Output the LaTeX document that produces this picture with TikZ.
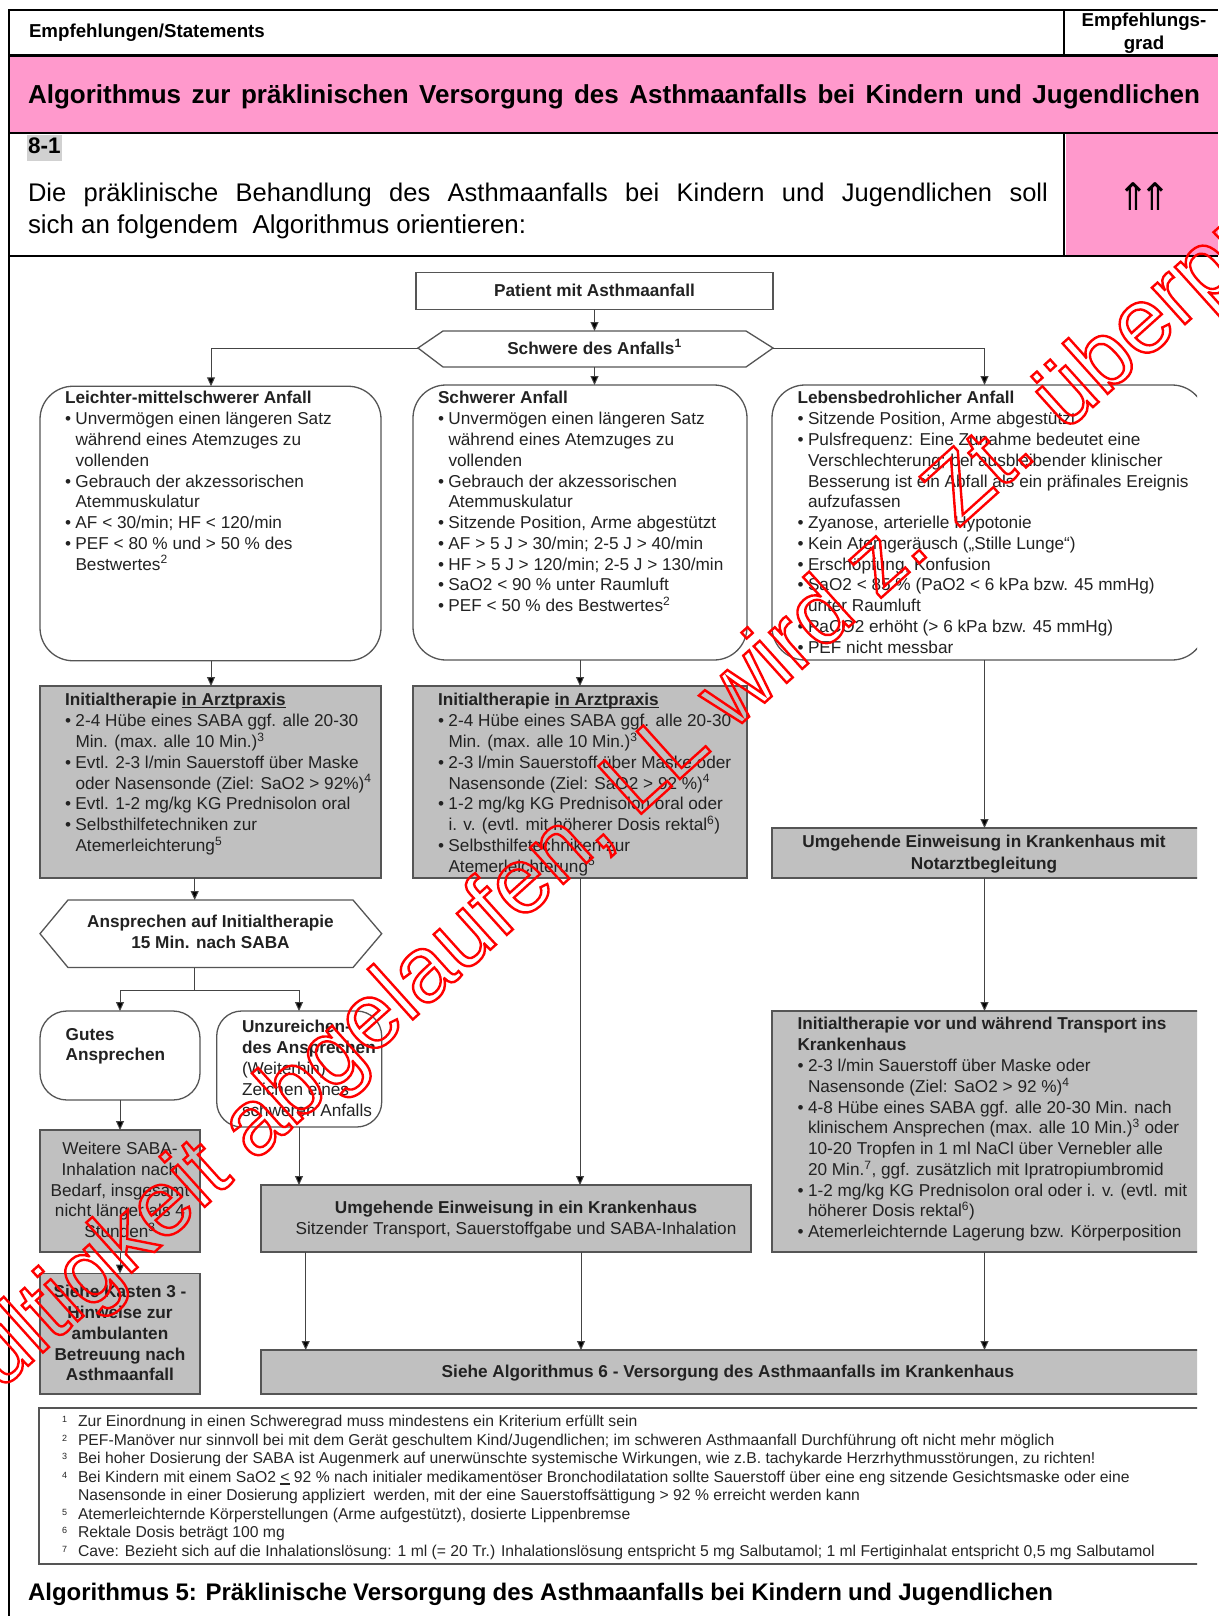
\documentclass[tikz,border=0pt]{standalone}
\usepackage{fontspec}
\setmainfont{Liberation Sans}
\newfontfamily\djv{DejaVu Sans}
\usetikzlibrary{arrows.meta}
\definecolor{pinkc}{HTML}{FF99CC}
\definecolor{grayc}{HTML}{C0C0C0}
\definecolor{edgec}{HTML}{555555}
\definecolor{inkc}{HTML}{222222}
\newcommand{\bl}{\makebox[10.5pt][l]{\textbullet}}
\newcommand{\cn}{\hspace*{10.5pt}}
\newcommand{\fnn}[1]{\makebox[16pt][l]{\raisebox{4pt}{\fontsize{9}{9}\selectfont #1}}}
\newcommand{\ulx}[1]{\setbox0=\hbox{#1}\rlap{\rule[-2.2pt]{\wd0}{1.1pt}}\box0 }
\tikzset{
  boxbase/.style={inner sep=0pt,outer sep=0pt,draw=edgec,line width=1.3pt},
  plainbox/.style={boxbase,fill=white,rectangle},
  roundbox/.style={boxbase,fill=white,rectangle,rounded corners=#1},
  graybox/.style={boxbase,fill=grayc,rectangle},
  txt/.style={inner sep=0pt,outer sep=0pt,anchor=north west,align=left,text=inkc,
    font=\fontsize{17.2}{20.78}\selectfont,execute at begin node={\rule{0pt}{12pt}}},
  ctxt/.style={txt,anchor=north,align=center},
  arr/.style={draw=edgec!80!black,line width=1pt,-{Triangle[length=9pt,width=8pt,fill=black]}},
  lin/.style={draw=edgec!80!black,line width=1pt},
  tabline/.style={draw=black,line width=2.2pt},
  head/.style={inner sep=0pt,outer sep=0pt,text=black},
}
\begin{document}
\begin{tikzpicture}[x=1pt,y=-1pt]
\useasboundingbox (0,0) rectangle (1218,1616);
\fill[white] (0,0) rectangle (1218,1616);
% table
\fill[pinkc] (10,57) rectangle (1218,132);
\fill[pinkc] (1066,134) rectangle (1218,255);
\fill[black!18] (27,135) rectangle (62,161);
\draw[tabline] (1218,10) -- (9,10) -- (9,1616);
\draw[tabline] (9,55.5) -- (1218,55.5);
\draw[tabline] (9,133) -- (1218,133);
\draw[tabline] (9,256) -- (1218,256);
\draw[draw=black,line width=1.8pt] (1064,10) -- (1064,56);
\draw[draw=black,line width=1.8pt] (1064,133) -- (1064,256);
\node[head,anchor=west,font=\bfseries\fontsize{18.7}{20}\selectfont] (hdrA) at (29,33) {Empfehlungen/Statements};
\node[head,align=center,font=\bfseries\fontsize{18.7}{22.5}\selectfont] (hdrB) at (1144,33) {Empfehlungs-\\grad};
\node[head,anchor=west,font=\bfseries\fontsize{26}{30}\selectfont] (title) at (28,97) {\makebox[1172pt][s]{Algorithmus zur präklinischen Versorgung des Asthmaanfalls bei Kindern und Jugendlichen}};
\node[head,anchor=west,font=\bfseries\fontsize{22.5}{26}\selectfont] (num) at (28,146) {8-1};
\node[head,anchor=west,font=\fontsize{25.5}{30}\selectfont] (intA) at (28,195) {\makebox[1020pt][s]{Die präklinische Behandlung des Asthmaanfalls bei Kindern und Jugendlichen soll}};
\node[head,anchor=west,font=\fontsize{25.9}{30}\selectfont] (intB) at (28,227) {sich an folgendem\ \ Algorithmus orientieren:};
\node[head,font=\djv\fontsize{38}{38}\selectfont] (grade) at (1144,197) {⇑\hspace{-10pt}⇑};
% boxes
\node[plainbox,minimum width=357pt,minimum height=37pt] (patient) at (594.5,291) {};
\node[ctxt,font=\bfseries\fontsize{17.2}{20.78}\selectfont] (patientT) at (594.5,284.5) {Patient mit Asthmaanfall};
\draw[boxbase,fill=white] (418,348) -- (443,331) -- (746,331) -- (773,348) -- (746,367) -- (443,367) -- cycle;
\coordinate (schwW) at (418,348); \coordinate (schwE) at (773,348); \coordinate (schwN) at (594.5,331); \coordinate (schwS) at (594.5,367);
\node[ctxt,font=\bfseries\fontsize{17.2}{20.78}\selectfont] (schwT) at (594.5,339.5) {Schwere des Anfalls\textsuperscript{1}};
\node[roundbox=33pt,minimum width=341pt,minimum height=274.5pt] (leicht) at (210.5,523.5) {};
\node[roundbox=33pt,minimum width=334pt,minimum height=275pt] (schwer) at (580,522.5) {};
\node[graybox,minimum width=341pt,minimum height=192pt] (ileft) at (210.5,782) {};
\node[graybox,minimum width=334pt,minimum height=192pt] (imid) at (580,782) {};
\begin{scope}
\clip (0,0) rectangle (1197,1616);
\node[roundbox=33pt,minimum width=433pt,minimum height=275pt] (lebens) at (988.5,522.5) {};
\node[graybox,minimum width=433pt,minimum height=50pt] (notarzt) at (988.5,853) {};
\node[graybox,minimum width=433pt,minimum height=241pt] (iright) at (988.5,1131.5) {};
\node[graybox,minimum width=944pt,minimum height=44pt] (algo) at (733,1372) {};
\node[boxbase,rectangle,minimum width=1166pt,minimum height=156pt] (fnbox) at (622,1486) {};
\end{scope}
\draw[boxbase,fill=white] (40,933.7) -- (68,900) -- (353,900) -- (381.7,933.7) -- (353,967.5) -- (68,967.5) -- cycle;
\coordinate (anspN) at (194.7,900); \coordinate (anspS) at (194.7,967.5);
\node[roundbox=27pt,minimum width=160pt,minimum height=89pt] (gutes) at (120,1055.5) {};
\node[roundbox=25pt,minimum width=165pt,minimum height=116pt] (unzu) at (299.2,1069) {};
\node[graybox,minimum width=160pt,minimum height=122pt] (weitere) at (120,1191) {};
\node[graybox,minimum width=160pt,minimum height=120.4pt] (kasten) at (120,1333.8) {};
\node[graybox,minimum width=490pt,minimum height=67pt] (umg) at (506,1218.5) {};
% connector guides
\coordinate (xl) at (211,0); \coordinate (xm) at (580,0); \coordinate (xr) at (984.5,0);
\coordinate (xa) at (194.7,0); \coordinate (xg) at (120,0); \coordinate (xu) at (299,0);
\coordinate (xs) at (305.7,0); \coordinate (xc) at (581,0);
\coordinate (yb) at (0,990);
% connectors
\draw[arr] (patient.south) -- (schwN);
\draw[arr] (schwS) -- (schwS |- schwer.north);
\draw[arr] (schwW) -| (xl |- leicht.north);
\draw[arr] (schwE) -| (xr |- lebens.north);
\draw[arr] (xl |- leicht.south) -- (xl |- ileft.north);
\draw[arr] (xm |- schwer.south) -- (xm |- imid.north);
\draw[arr] (xr |- lebens.south) -- (xr |- notarzt.north);
\draw[arr] (xr |- notarzt.south) -- (xr |- iright.north);
\draw[arr] (xa |- ileft.south) -- (anspN);
\draw[lin] (anspS) -- (xa |- yb);
\draw[arr] (xa |- yb) -| (xg |- gutes.north);
\draw[arr] (xa |- yb) -| (xu |- unzu.north);
\draw[arr] (xg |- gutes.south) -- (xg |- weitere.north);
\draw[arr] (xg |- weitere.south) -- (xg |- kasten.north);
\draw[arr] (xu |- unzu.south) -- (xu |- umg.north);
\draw[arr] (xm |- imid.south) -- (xm |- umg.north);
\draw[arr] (xs |- umg.south) -- (xs |- algo.north);
\draw[arr] (xc |- umg.south) -- (xc |- algo.north);
\draw[arr] (xr |- iright.south) -- (xr |- algo.north);
% texts
\node[txt] (leichtT) at (65,391.5) {\textbf{Leichter-mittelschwerer Anfall}\\
\bl Unvermögen einen längeren Satz\\
\cn während eines Atemzuges zu\\
\cn vollenden\\
\bl Gebrauch der akzessorischen\\
\cn Atemmuskulatur\\
\bl AF < 30/min; HF < 120/min\\
\bl PEF < 80 \% und > 50 \% des\\
\cn Bestwertes\textsuperscript{2}};
\node[txt] (schwerT) at (438,391.5) {\textbf{Schwerer Anfall}\\
\bl Unvermögen einen längeren Satz\\
\cn während eines Atemzuges zu\\
\cn vollenden\\
\bl Gebrauch der akzessorischen\\
\cn Atemmuskulatur\\
\bl Sitzende Position, Arme abgestützt\\
\bl AF > 5 J > 30/min; 2-5 J > 40/min\\
\bl HF > 5 J > 120/min; 2-5 J > 130/min\\
\bl SaO2 < 90 \% unter Raumluft\\
\bl PEF < 50 \% des Bestwertes\textsuperscript{2}};
\node[txt] (lebensT) at (797.5,391.5) {\textbf{Lebensbedrohlicher Anfall}\\
\bl Sitzende Position, Arme abgestützt\\
\bl Pulsfrequenz: Eine Zunahme bedeutet eine\\
\cn Verschlechterung; bei ausbleibender klinischer\\
\cn Besserung ist ein Abfall als ein präfinales Ereignis\\
\cn aufzufassen\\
\bl Zyanose, arterielle Hypotonie\\
\bl Kein Atemgeräusch („Stille Lunge“)\\
\bl Erschöpfung, Konfusion\\
\bl SaO2 < 85 \% (PaO2 < 6 kPa bzw. 45 mmHg)\\
\cn unter Raumluft\\
\bl PaCO2 erhöht (> 6 kPa bzw. 45 mmHg)\\
\bl PEF nicht messbar};
\node[txt] (ileftT) at (65,693.5) {\textbf{Initialtherapie \ulx{in Arztpraxis}}\\
\bl 2-4 Hübe eines SABA ggf. alle 20-30\\
\cn Min. (max. alle 10 Min.)\textsuperscript{3}\\
\bl Evtl. 2-3 l/min Sauerstoff über Maske\\
\cn oder Nasensonde (Ziel: SaO2 > 92\%)\textsuperscript{4}\\
\bl Evtl. 1-2 mg/kg KG Prednisolon oral\\
\bl Selbsthilfetechniken zur\\
\cn Atemerleichterung\textsuperscript{5}};
\node[txt] (imidT) at (438,693.5) {\textbf{Initialtherapie \ulx{in Arztpraxis}}\\
\bl 2-4 Hübe eines SABA ggf. alle 20-30\\
\cn Min. (max. alle 10 Min.)\textsuperscript{3}\\
\bl 2-3 l/min Sauerstoff über Maske oder\\
\cn Nasensonde (Ziel: SaO2 > 92 \%)\textsuperscript{4}\\
\bl 1-2 mg/kg KG Prednisolon oral oder\\
\cn i. v. (evtl. mit höherer Dosis rektal\textsuperscript{6})\\
\bl Selbsthilfetechniken zur\\
\cn Atemerleichterung\textsuperscript{5}};
\node[ctxt,font=\bfseries\fontsize{17.2}{22}\selectfont] (notarztT) at (984,835.5) {Umgehende Einweisung in Krankenhaus mit\\Notarztbegleitung};
\node[txt] (irightT) at (797.5,1017.5) {\textbf{Initialtherapie vor und während Transport ins}\\
\textbf{Krankenhaus}\\
\bl 2-3 l/min Sauerstoff über Maske oder\\
\cn Nasensonde (Ziel: SaO2 > 92 \%)\textsuperscript{4}\\
\bl 4-8 Hübe eines SABA ggf. alle 20-30 Min. nach\\
\cn klinischem Ansprechen (max. alle 10 Min.)\textsuperscript{3} oder\\
\cn 10-20 Tropfen in 1 ml NaCl über Vernebler alle\\
\cn 20 Min.\textsuperscript{7}, ggf. zusätzlich mit Ipratropiumbromid\\
\bl 1-2 mg/kg KG Prednisolon oral oder i. v. (evtl. mit\\
\cn höherer Dosis rektal\textsuperscript{6})\\
\bl Atemerleichternde Lagerung bzw. Körperposition};
\node[ctxt] (anspT) at (210.5,915.5) {\textbf{Ansprechen auf Initialtherapie}\\\textbf{15 Min. nach SABA}};
\node[txt] (gutesT) at (65.7,1028) {\textbf{Gutes}\\\textbf{Ansprechen}};
\node[txt] (unzuT) at (242,1020.5) {\textbf{Unzureichen-}\\\textbf{des Ansprechen}\\(Weiterhin)\\Zeichen eines\\schweren Anfalls};
\node[ctxt] (weitereT) at (120,1142) {Weitere SABA-\\Inhalation nach\\Bedarf, insgesamt\\nicht länger als 4\\Stunden\textsuperscript{3}};
\node[ctxt,font=\bfseries\fontsize{17.2}{20.7}\selectfont] (kastenT) at (120,1285.5) {Siehe Kasten 3 -\\Hinweise zur\\ambulanten\\Betreuung nach\\Asthmaanfall};
\node[ctxt] (umgT) at (516,1201) {\textbf{Umgehende Einweisung in ein Krankenhaus}\\Sitzender Transport, Sauerstoffgabe und SABA-Inhalation};
\node[ctxt,font=\bfseries\fontsize{17.2}{20.65}\selectfont] (algoT) at (728,1365.5) {Siehe Algorithmus 6 - Versorgung des Asthmaanfalls im Krankenhaus};
\node[txt,font=\fontsize{15.7}{18.5}\selectfont,text=black!85] (fnT) at (62,1415.5) {\fnn{1}Zur Einordnung in einen Schweregrad muss mindestens ein Kriterium erfüllt sein\\
\fnn{2}PEF-Manöver nur sinnvoll bei mit dem Gerät geschultem Kind/Jugendlichen; im schweren Asthmaanfall Durchführung oft nicht mehr möglich\\
\fnn{3}Bei hoher Dosierung der SABA ist Augenmerk auf unerwünschte systemische Wirkungen, wie z.B. tachykarde Herzrhythmusstörungen, zu richten!\\
\fnn{4}Bei Kindern mit einem SaO2 \ulx{<} 92 \% nach initialer medikamentöser Bronchodilatation sollte Sauerstoff über eine eng sitzende Gesichtsmaske oder eine\\
\fnn{}Nasensonde in einer Dosierung appliziert\ \ werden, mit der eine Sauerstoffsättigung > 92 \% erreicht werden kann\\
\fnn{5}Atemerleichternde Körperstellungen (Arme aufgestützt), dosierte Lippenbremse\\
\fnn{6}Rektale Dosis beträgt 100 mg\\
\fnn{7}Cave: Bezieht sich auf die Inhalationslösung: 1 ml (= 20 Tr.) Inhalationslösung entspricht 5 mg Salbutamol; 1 ml Fertiginhalat entspricht 0,5 mg Salbutamol};
\node[head,anchor=west,font=\bfseries\fontsize{24}{28}\selectfont] (caption) at (28,1594) {\makebox[1025pt][s]{Algorithmus 5: Präklinische Versorgung des Asthmaanfalls bei Kindern und Jugendlichen}};
% stamp
\node[inner sep=0pt,outer sep=0pt,rotate=42,anchor=base west,text=red,font=\fontsize{93.3}{94}\selectfont] (stamp) at (-54.2,1440) {\special{pdf:code q 1 Tr 2.4 w 1 0 0 RG}Gültigkeit abgelaufen, LL wird z. Zt. überprüft\special{pdf:code Q}};
\end{tikzpicture}
\end{document}
